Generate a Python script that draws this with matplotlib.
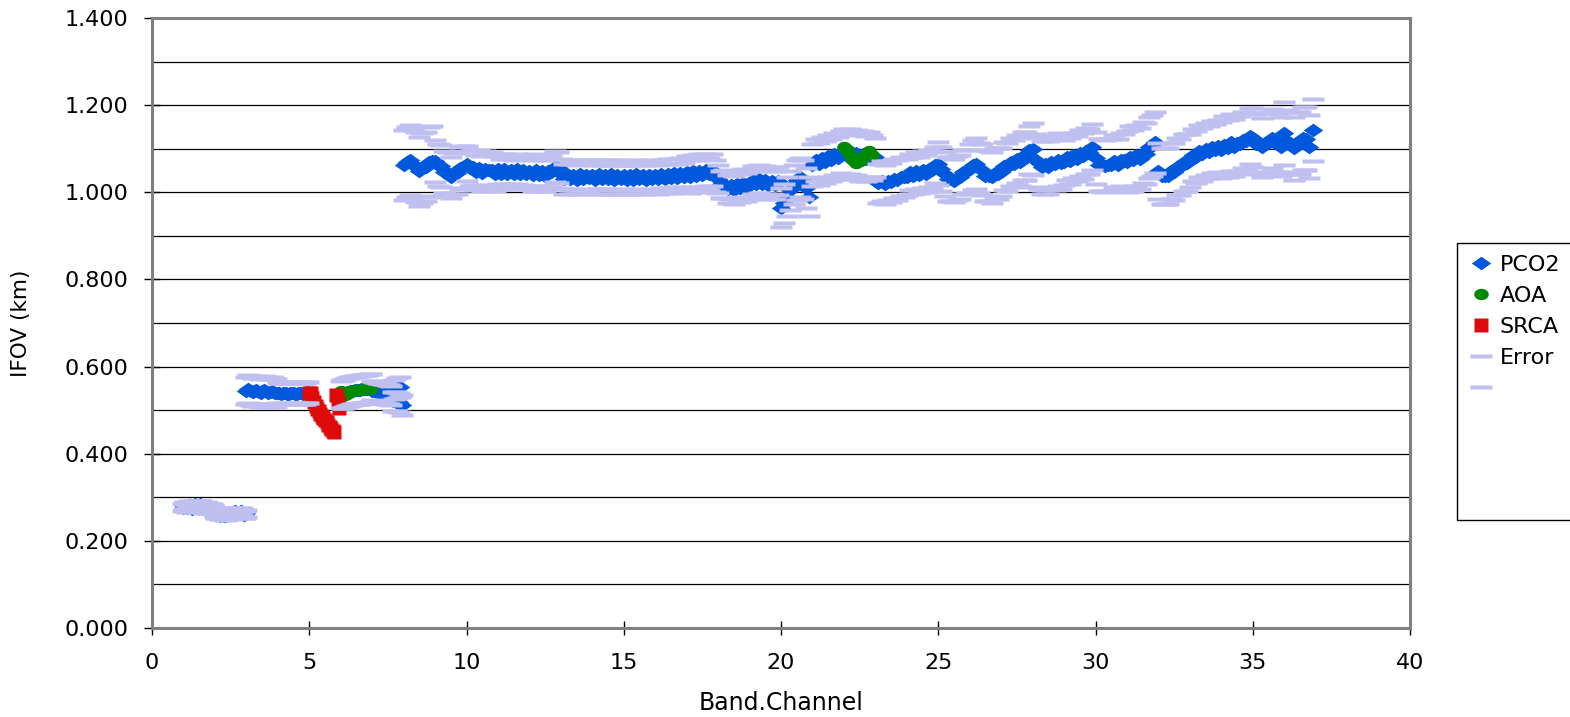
import numpy as np
import matplotlib
matplotlib.use("Agg")
import matplotlib.pyplot as plt
from matplotlib.patches import Rectangle

# ---------------------------------------------------------------------------
# IFOV (km) per detector, PCO2 series.  Bands 1-2: 40 detectors (250 m),
# bands 3-7: 20 detectors (500 m), bands 8-36: 10 detectors (1 km).
# ---------------------------------------------------------------------------
B01 = [0.276, 0.279, 0.281, 0.278, 0.275, 0.277, 0.280, 0.283, 0.282, 0.279,
       0.276, 0.274, 0.277, 0.280, 0.283, 0.284, 0.281, 0.278, 0.276, 0.279,
       0.282, 0.284, 0.283, 0.280, 0.277, 0.275, 0.273, 0.276, 0.279, 0.281,
       0.278, 0.275, 0.273, 0.271, 0.274, 0.277, 0.276, 0.273, 0.271, 0.270]
B02 = [0.264, 0.262, 0.260, 0.261, 0.263, 0.262, 0.260, 0.258, 0.259, 0.261,
       0.262, 0.260, 0.258, 0.257, 0.259, 0.261, 0.263, 0.262, 0.260, 0.259,
       0.261, 0.263, 0.265, 0.266, 0.267, 0.268, 0.266, 0.264, 0.262, 0.261,
       0.263, 0.265, 0.267, 0.268, 0.266, 0.264, 0.262, 0.260, 0.261, 0.263]
B03 = [0.545, 0.548, 0.546, 0.543, 0.541, 0.544, 0.547, 0.545, 0.542, 0.540,
       0.543, 0.546, 0.544, 0.541, 0.539, 0.542, 0.544, 0.542, 0.540, 0.539]
B04 = [0.540, 0.539, 0.538, 0.539, 0.540, 0.539, 0.538, 0.538, 0.539, 0.540,
       0.539, 0.538, 0.538, 0.539, 0.540, 0.539, 0.538, 0.539, 0.540, 0.541]
B06 = [0.536, 0.537, 0.538, 0.540, 0.541, 0.542, 0.543, 0.544, 0.545, 0.546,
       0.546, 0.547, 0.547, 0.548, 0.548, 0.548, 0.549, 0.549, 0.550, 0.550]
B07 = [0.545, 0.544, 0.543, 0.542, 0.541, 0.540, 0.540, 0.539, 0.538, 0.537,
       0.536, 0.535, 0.534, 0.520, 0.548, 0.519, 0.551, 0.518, 0.553, 0.512]
B08 = [1.063, 1.070, 1.074, 1.064, 1.058, 1.048, 1.056, 1.059, 1.069, 1.072]
B09 = [1.072, 1.062, 1.060, 1.047, 1.045, 1.034, 1.043, 1.044, 1.056, 1.058]
B10 = [1.066, 1.055, 1.057, 1.046, 1.056, 1.044, 1.054, 1.051, 1.052, 1.043]
B11 = [1.053, 1.042, 1.054, 1.043, 1.052, 1.041, 1.053, 1.042, 1.051, 1.043]
B12 = [1.050, 1.039, 1.051, 1.040, 1.050, 1.038, 1.049, 1.047, 1.059, 1.057]
B13 = [1.043, 1.031, 1.041, 1.030, 1.040, 1.029, 1.041, 1.031, 1.040, 1.032]
B14 = [1.040, 1.029, 1.041, 1.030, 1.040, 1.030, 1.041, 1.029, 1.039, 1.030]
B15 = [1.040, 1.029, 1.039, 1.029, 1.041, 1.030, 1.039, 1.029, 1.040, 1.031]
B16 = [1.039, 1.030, 1.042, 1.031, 1.043, 1.032, 1.044, 1.033, 1.045, 1.035]
B17 = [1.046, 1.036, 1.048, 1.038, 1.050, 1.040, 1.052, 1.042, 1.051, 1.037]
B18 = [1.030, 1.018, 1.019, 1.007, 1.017, 1.006, 1.018, 1.009, 1.022, 1.013]
B19 = [1.017, 1.028, 1.018, 1.030, 1.019, 1.029, 1.017, 1.027, 1.016, 1.025]
B20 = [0.965, 0.975, 0.990, 1.005, 1.018, 1.028, 1.034, 1.029, 1.010, 0.990]
B21 = [1.062, 1.074, 1.065, 1.079, 1.070, 1.083, 1.074, 1.088, 1.079, 1.093]
B22 = [1.093, 1.084, 1.094, 1.082, 1.091, 1.079, 1.088, 1.077, 1.086, 1.080]
B23 = [1.080, 1.021, 1.026, 1.018, 1.027, 1.023, 1.031, 1.028, 1.036, 1.034]
B24 = [1.035, 1.047, 1.038, 1.050, 1.040, 1.052, 1.043, 1.054, 1.052, 1.063]
B25 = [1.066, 1.054, 1.042, 1.030, 1.031, 1.027, 1.033, 1.035, 1.047, 1.048]
B26 = [1.053, 1.063, 1.066, 1.056, 1.052, 1.038, 1.037, 1.034, 1.044, 1.043]
B27 = [1.047, 1.060, 1.058, 1.069, 1.066, 1.077, 1.069, 1.083, 1.083, 1.097]
B28 = [1.100, 1.073, 1.067, 1.057, 1.066, 1.057, 1.069, 1.065, 1.075, 1.067]
B29 = [1.069, 1.080, 1.072, 1.085, 1.077, 1.090, 1.083, 1.095, 1.093, 1.104]
B30 = [1.079, 1.062, 1.063, 1.061, 1.062, 1.062, 1.071, 1.063, 1.075, 1.073]
B31 = [1.070, 1.081, 1.073, 1.085, 1.077, 1.091, 1.089, 1.103, 1.107, 1.115]
B32 = [1.049, 1.037, 1.037, 1.037, 1.049, 1.047, 1.059, 1.058, 1.069, 1.068]
B33 = [1.073, 1.085, 1.081, 1.094, 1.087, 1.100, 1.093, 1.104, 1.096, 1.107]
B34 = [1.097, 1.109, 1.101, 1.115, 1.103, 1.113, 1.110, 1.120, 1.118, 1.129]
B35 = [1.125, 1.111, 1.113, 1.103, 1.114, 1.113, 1.124, 1.114, 1.115, 1.105]
B36 = [1.135, 1.118, 1.113, 1.101, 1.113, 1.113, 1.124, 1.123, 1.105, 1.143]

# Band number and half-width of the error bar, in the same band order
pco2_bands = [1, 2, 3, 4, 6, 7] + list(range(8, 37))
pco2_values = [B01, B02, B03, B04, B06, B07, B08, B09, B10, B11, B12, B13,
               B14, B15, B16, B17, B18, B19, B20, B21, B22, B23, B24, B25,
               B26, B27, B28, B29, B30, B31, B32, B33, B34, B35, B36]
error_halfwidth = [0.008, 0.008, 0.032, 0.024, 0.032, 0.022,
                   0.080, 0.048, 0.040, 0.034, 0.036, 0.034, 0.033, 0.033,
                   0.033, 0.037, 0.032, 0.032, 0.045, 0.048, 0.052, 0.045,
                   0.042, 0.050, 0.058, 0.055, 0.060, 0.052, 0.060, 0.070,
                   0.065, 0.060, 0.065, 0.068, 0.072]

# AOA measurements (band 6 and band 22)
A06 = [0.545, 0.532, 0.540, 0.535, 0.538, 0.542, 0.543, 0.544, 0.545, 0.546,
       0.546, 0.547, 0.547, 0.547, 0.548, 0.548, 0.548, 0.548, 0.549, 0.549]
A22 = [1.105, 1.097, 1.086, 1.075, 1.067, 1.072, 1.080, 1.088, 1.095, 1.085]
aoa_bands = [6, 22]
aoa_values = [A06, A22]

# SRCA measurements (band 5)
S05 = [0.540, 0.540, 0.528, 0.518, 0.510, 0.503, 0.497, 0.492, 0.487, 0.482,
       0.477, 0.472, 0.467, 0.462, 0.457, 0.452, 0.450, 0.535, 0.520, 0.505]
srca_bands = [5]
srca_values = [S05]

x_ticks = [0, 5, 10, 15, 20, 25, 30, 35, 40]
y_ticks = [0.0, 0.2, 0.4, 0.6, 0.8, 1.0, 1.2, 1.4]
legend_labels = ["PCO2", "AOA", "SRCA", "Error", ""]


def band_channel(bands, values):
    """Band.Channel coordinate: band number plus detector fraction."""
    xs, ys = [], []
    for b, v in zip(bands, values):
        n = len(v)
        xs.append(b + np.arange(n) / n)
        ys.append(np.asarray(v, dtype=float))
    return np.concatenate(xs), np.concatenate(ys)


x_pc, y_pc = band_channel(pco2_bands, pco2_values)
err = np.concatenate([np.full(len(v), e) for v, e in zip(pco2_values, error_halfwidth)])
x_aoa, y_aoa = band_channel(aoa_bands, aoa_values)
x_src, y_src = band_channel(srca_bands, srca_values)

# Marker shapes
diamond = [(-1, 0), (0, 0.7), (1, 0), (0, -0.7), (-1, 0)]
t = np.linspace(0, 2 * np.pi, 41)
ellipse = list(zip(np.cos(t), 0.78 * np.sin(t)))
square = [(-1, -1), (1, -1), (1, 1), (-1, 1), (-1, -1)]
dash = [(-1, -0.22), (1, -0.22), (1, 0.22), (-1, 0.22), (-1, -0.22)]

BLUE = "#0058DC"
GREEN = "#008A00"
RED = "#DE0B0B"
LAV = "#BFBFF0"

plt.rcParams["font.family"] = ["DejaVu Sans"]

fig = plt.figure(figsize=(15.7, 7.17), dpi=100)
ax = fig.add_axes([152 / 1570, 1 - 628 / 717, 1258 / 1570, 610 / 717])

l_pc, = ax.plot(x_pc, y_pc, ls="none", marker=diamond, ms=14, mfc=BLUE,
                mec="none", zorder=3)
l_aoa, = ax.plot(x_aoa, y_aoa, ls="none", marker=ellipse, ms=10.5, mfc=GREEN,
                 mec="none", zorder=4)
l_src, = ax.plot(x_src, y_src, ls="none", marker=square, ms=10, mfc=RED,
                 mec="none", zorder=5)
l_hi, = ax.plot(x_pc, y_pc + err, ls="none", marker=dash, ms=15.5, mfc=LAV,
                mec="none", zorder=6)
l_lo, = ax.plot(x_pc, y_pc - err, ls="none", marker=dash, ms=15.5, mfc=LAV,
                mec="none", zorder=6)

ax.set_xlim(0, 40)
ax.set_ylim(0, 1.4)
ax.set_xticks(x_ticks)
ax.set_yticks(y_ticks)
ax.set_yticks(np.arange(0, 1.41, 0.1), minor=True)
ax.set_yticklabels([f"{v:.3f}" for v in y_ticks])
ax.yaxis.grid(True, which="both", color="black", lw=0.9)
ax.set_axisbelow(True)

ax.tick_params(axis="y", which="major", direction="inout", length=12,
               width=1, color="black", labelsize=16, pad=11)
ax.tick_params(axis="x", which="major", direction="inout", length=10,
               width=1, color="black", labelsize=16, pad=13)
ax.tick_params(axis="y", which="minor", length=0)

for s in ax.spines.values():
    s.set_color("#808080")
    s.set_linewidth(2.2)

ax.set_xlabel("Band.Channel", fontsize=17)
ax.xaxis.set_label_coords(0.5, -0.104)
fig.text(21 / 1570, 1 - 323 / 717, "IFOV (km)", rotation=90, ha="center",
         va="center", fontsize=15.5)

# Legend box and entries
fig.add_artist(Rectangle((1457 / 1570, 1 - 520 / 717), 0.2, 277 / 717,
                         transform=fig.transFigure, fill=False,
                         edgecolor="black", lw=1.0))
ax.legend([l_pc, l_aoa, l_src, l_hi, l_lo], legend_labels,
          loc="upper left", bbox_to_anchor=(1461 / 1570, 1 - 246 / 717),
          bbox_transform=fig.transFigure, frameon=False, fontsize=16,
          handlelength=1.0, handletextpad=0.35, labelspacing=0.49,
          borderaxespad=0, borderpad=0.4, numpoints=1)

fig.savefig("out.png", dpi=100)
